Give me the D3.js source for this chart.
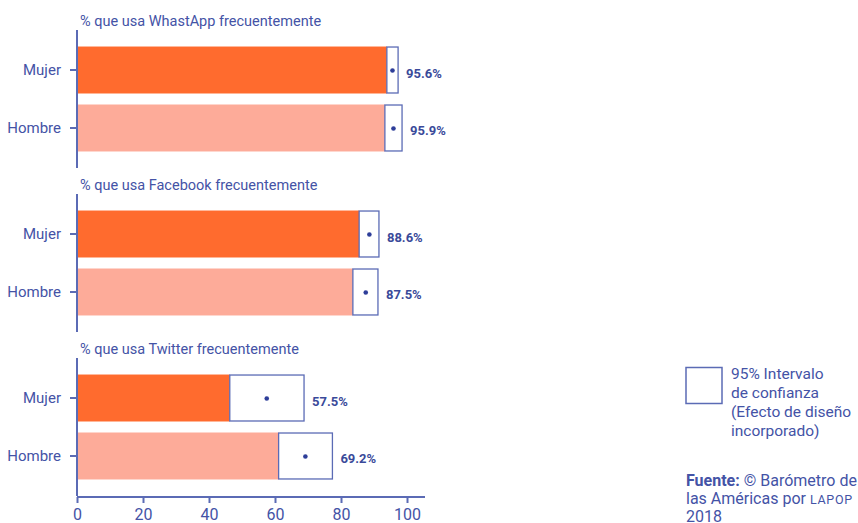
<!DOCTYPE html>
<html><head><meta charset="utf-8">
<script src="https://cdn.jsdelivr.net/npm/d3@7"></script>
<style>
body{margin:0;background:#fff;}
text{font-family:Roboto,"Noto Sans",sans-serif;}
</style></head>
<body><svg id="c" width="858" height="523"></svg>
<script>
const panels = ["% que usa WhastApp frecuentemente","% que usa Facebook frecuentemente","% que usa Twitter frecuentemente"];
const categories = ["Mujer","Hombre"];
const values = [[95.6,95.9],[88.6,87.5],[57.5,69.2]];
const ciLow = [[93.9,93.3],[85.5,83.6],[46.3,61.1]];
const ciHigh = [[97.3,98.5],[91.5,91.2],[68.8,77.4]];
const xTicks = [0,20,40,60,80,100];
const legendLines = ["95% Intervalo","de confianza","(Efecto de diseño","incorporado)"];

const axisCol = "#5b6bb5", textCol = "#4453a6", dotCol = "#2e3e99", valCol = "#3a4a9a";
const barCols = ["#ff6b2e","#fdab99"];

const svg = d3.select("#c");
const x = d3.scaleLinear().domain([0,100]).range([77,407]);

panels.forEach((title,i)=>{
  const y0 = 30 + i*164;
  const y = d3.scaleBand().domain(categories).range([y0, y0+138]).paddingInner(0.19).paddingOuter(0.285);
  const g = svg.append("g");
  g.append("text").attr("x",80).attr("y",y0-4.5).attr("font-size",14.5).attr("fill",textCol).text(title);
  categories.forEach((c,j)=>{
    g.append("rect").attr("x",x(0)).attr("y",y(c)).attr("width",x(ciLow[i][j])-x(0)).attr("height",y.bandwidth()).attr("fill",barCols[j]);
    g.append("rect").attr("x",x(ciLow[i][j])).attr("y",y(c)+0.5).attr("width",x(ciHigh[i][j])-x(ciLow[i][j])).attr("height",y.bandwidth()-1)
      .attr("fill","#fff").attr("stroke",axisCol).attr("stroke-width",1.3);
    g.append("circle").attr("cx",x(values[i][j])).attr("cy",y(c)+y.bandwidth()/2+0.5).attr("r",2.3).attr("fill",dotCol);
    g.append("text").attr("x",x(ciHigh[i][j])+8).attr("y",y(c)+y.bandwidth()/2+7.5)
      .attr("font-size",13).attr("font-weight","bold").attr("fill",valCol)
      .attr("font-family","'DejaVu Sans Condensed','Roboto Condensed',Roboto,sans-serif")
      .text(values[i][j].toFixed(1)+"%");
  });
  const ya = g.append("g").attr("transform",`translate(${x(0)},0)`).call(d3.axisLeft(y).tickSize(7).tickPadding(9));
  ya.select(".domain").attr("stroke",axisCol).attr("stroke-width",2).attr("d",`M0,${y0}V${y0+138}`);
  ya.selectAll(".tick line").attr("stroke",axisCol).attr("stroke-width",2);
  ya.selectAll(".tick text").attr("font-size",15).attr("fill",textCol).attr("font-family","Roboto,sans-serif").attr("dy","0.35em");
  if(i===2){
    const xa = svg.append("g").attr("transform",`translate(0,${y0+139})`)
      .call(d3.axisBottom(x).tickValues(xTicks).tickSize(6).tickPadding(6).tickSizeOuter(0));
    xa.select(".domain").attr("stroke",axisCol).attr("stroke-width",2).attr("d",`M${x(0)},0H425`);
    xa.selectAll(".tick line").attr("stroke",axisCol).attr("stroke-width",2);
    xa.selectAll(".tick text").attr("font-size",16).attr("fill",textCol).attr("font-family","Roboto,sans-serif");
  }
});

svg.append("rect").attr("x",686).attr("y",367.5).attr("width",36).attr("height",36).attr("fill","#fff").attr("stroke",axisCol).attr("stroke-width",1.5);
svg.append("g").selectAll("text").data(legendLines).join("text")
  .attr("x",731).attr("y",(d,k)=>379+k*19).attr("font-size",15.5).attr("fill",textCol).text(d=>d);

const src = svg.append("text").attr("x",686).attr("y",486).attr("font-size",16).attr("fill",textCol);
src.append("tspan").attr("font-weight","bold").text("Fuente:");
src.append("tspan").text(" © Barómetro de");
const src2 = svg.append("text").attr("x",686).attr("y",504).attr("font-size",16).attr("fill",textCol);
src2.append("tspan").text("las Américas por ");
src2.append("tspan").attr("font-size",12.5).attr("letter-spacing",0.7).text("LAPOP");
svg.append("text").attr("x",686).attr("y",522).attr("font-size",16).attr("fill",textCol).text("2018");
</script></body></html>
